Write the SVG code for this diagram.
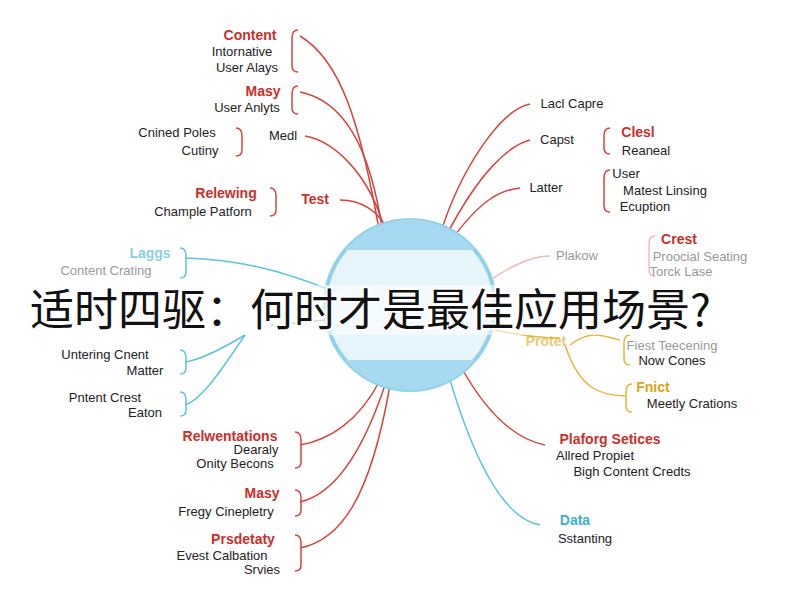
<svg xmlns="http://www.w3.org/2000/svg" width="800" height="600" viewBox="0 0 800 600">
<style>
text{font-family:"Liberation Sans","Noto Sans",sans-serif;font-size:13px;fill:#222;text-anchor:middle}
.r{fill:#c8302c;font-weight:bold;font-size:14px}
.b{fill:#3ab0d0;font-weight:bold;font-size:14px}
.y{fill:#d9a520;font-weight:bold;font-size:14px}
.g{fill:#999}
.lr{fill:none;stroke:#d0473f;stroke-width:1.5}
.lb{fill:none;stroke:#5ec3dc;stroke-width:1.5}
.ly{fill:none;stroke:#e3b73a;stroke-width:1.5}
.lp{fill:none;stroke:#e8b8b5;stroke-width:1.3}
.t{font-family:"Noto Sans CJK SC","Liberation Sans",sans-serif;font-size:44px;fill:#111;text-anchor:start}
</style>
<rect width="800" height="600" fill="#fff"/>
<g id="connectors">
<path class="lr" d="M380 235 C360 120 340 60 300 36"/>
<path class="lr" d="M383 235 C370 140 340 100 300 92"/>
<path class="lr" d="M386 235 C370 170 330 140 305 136"/>
<path class="lr" d="M390 235 C380 210 360 200 340 200"/>
<path class="lr" d="M440 235 C460 170 500 110 530 104"/>
<path class="lr" d="M445 238 C480 170 510 145 530 140"/>
<path class="lr" d="M450 242 C480 200 500 190 520 188"/>
<path class="lp" d="M490 280 C520 260 540 256 550 256"/>
<path class="ly" d="M495 330 C520 335 540 338 560 338"/>
<path class="ly" d="M570 345 C590 330 600 335 620 340"/>
<path class="ly" d="M565 345 C580 390 600 395 625 396"/>
<path class="lr" d="M460 365 C490 420 520 440 545 445"/>
<path class="lb" d="M450 380 C480 480 510 520 540 525"/>
<path class="lb" d="M330 290 C280 270 240 260 185 258"/>
<path class="lb" d="M325 320 C300 322 285 325 270 325"/>
<path class="lb" d="M245 335 C220 350 200 360 185 362"/>
<path class="lb" d="M245 335 C215 380 200 400 185 405"/>
<path class="lr" d="M380 380 C360 420 330 440 300 445"/>
<path class="lr" d="M385 385 C360 460 330 495 300 502"/>
<path class="lr" d="M390 385 C370 500 340 540 300 548"/>
<path class="lr" d="M298 30 q-6 0 -6 8 v28 q0 6 6 6"/>
<path class="lr" d="M298 86 q-6 0 -6 8 v14 q0 6 6 6"/>
<path class="lr" d="M236 128 q6 0 6 8 v14 q0 6 -6 6"/>
<path class="lr" d="M270 188 q6 0 6 8 v14 q0 6 -6 6"/>
<path class="lr" d="M610 128 q-6 0 -6 8 v12 q0 6 6 6"/>
<path class="lr" d="M610 170 q-6 0 -6 8 v28 q0 6 6 6"/>
<path class="lp" d="M655 236 q-6 0 -6 8 v26 q0 6 6 6"/>
<path class="ly" d="M630 335 q-6 0 -6 8 v16 q0 6 6 6"/>
<path class="ly" d="M632 384 q-6 0 -6 8 v14 q0 6 6 6"/>
<path class="lb" d="M180 248 q6 0 6 8 v16 q0 6 -6 6"/>
<path class="lb" d="M180 350 q6 0 6 8 v10 q0 6 -6 6"/>
<path class="lb" d="M180 392 q6 0 6 8 v10 q0 6 -6 6"/>
<path class="lr" d="M295 432 q6 0 6 8 v22 q0 6 -6 6"/>
<path class="lr" d="M295 490 q6 0 6 8 v12 q0 6 -6 6"/>
<path class="lr" d="M295 535 q6 0 6 8 v22 q0 6 -6 6"/>
</g>
<g id="center">
<circle cx="410" cy="305" r="85" fill="#e6f4fb" stroke="#8fd0ea" stroke-width="4"/>
<path d="M345 250 A85 85 0 0 1 475 250 Z" fill="#a6d9f0"/>
<path d="M345 360 A85 85 0 0 0 475 360 Z" fill="#a6d9f0"/>
</g>
<g id="left-top">
<text class="r" x="250" y="40">Content</text><text x="242" y="56">Intornative</text><text x="247" y="72">User Alays</text>
<text class="r" x="263" y="96">Masy</text><text x="247" y="112">User Anlyts</text>
<text x="177" y="137">Cnined Poles</text><text x="200" y="155">Cutiny</text><text x="283" y="140">Medl</text>
<text class="r" x="226" y="198">Relewing</text><text class="r" x="315" y="204">Test</text><text x="203" y="216">Chample Patforn</text>
</g>
<g id="left-blue">
<text class="b" x="150" y="258" opacity="0.6">Laggs</text><text class="g" x="106" y="275">Content Crating</text>
<text x="105" y="359">Untering Cnent</text><text x="145" y="375">Matter</text>
<text x="105" y="402">Pntent Crest</text><text x="145" y="417">Eaton</text>
</g>
<g id="left-bottom">
<text class="r" x="230" y="441">Relwentations</text><text x="256" y="454" font-size="11">Dearaly</text><text x="235" y="468">Onity Becons</text>
<text class="r" x="262" y="498">Masy</text><text x="226" y="516">Fregy Cinepletry</text>
<text class="r" x="243" y="544">Prsdetaty</text><text x="222" y="560">Evest Calbation</text><text x="262" y="574">Srvies</text>
</g>
<g id="right">
<text x="572" y="108">Lacl Capre</text>
<text x="557" y="144">Capst</text><text class="r" x="638" y="137">Clesl</text><text x="646" y="155">Reaneal</text>
<text x="546" y="192">Latter</text><text x="626" y="178">User</text><text x="665" y="195">Matest Linsing</text><text x="645" y="211">Ecuption</text>
<text class="g" x="577" y="260">Plakow</text><text class="r" x="679" y="244">Crest</text><text class="g" x="700" y="261">Proocial Seating</text><text class="g" x="681" y="276">Torck Lase</text>
<text class="y" x="546" y="346" opacity="0.6">Protet</text><text class="g" x="672" y="350">Fiest Teecening</text><text x="672" y="365">Now Cones</text>
<text class="y" x="653" y="392">Fnict</text><text x="692" y="408">Meetly Crations</text>
<text class="r" x="610" y="444">Plaforg Setices</text><text x="595" y="460">Allred Propiet</text><text x="632" y="476">Bigh Content Credts</text>
<text class="b" x="575" y="525">Data</text><text x="585" y="543">Sstanting</text>
</g>
<g id="title">
<rect x="20" y="285" width="760" height="50" fill="#fff" opacity="0.55"/>
<text class="t" x="30" y="326" stroke="#fff" stroke-width="4" paint-order="stroke">适时四驱：何时才是最佳应用场景?</text>
</g>
</svg>
